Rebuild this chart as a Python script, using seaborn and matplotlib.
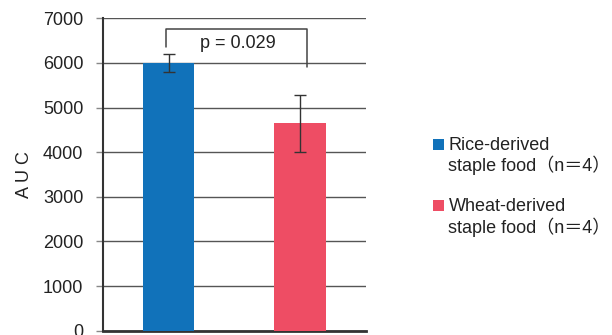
import matplotlib
matplotlib.use("Agg")
import matplotlib.pyplot as plt
from matplotlib.patches import Rectangle
import seaborn as sns
import pandas as pd

# Glucose response (AUC) by staple food type
groups = ["Rice-derived staple food", "Wheat-derived staple food"]
auc_mean = [6000, 4650]
auc_sd = [205, 640]
bar_colors = ["#1172BA", "#EE4D64"]
legend_labels = ["Rice-derived\nstaple food（n＝4）", "Wheat-derived\nstaple food（n＝4）"]
y_ticks = [0, 1000, 2000, 3000, 4000, 5000, 6000, 7000]
p_label = "p = 0.029"

FS = 13

sns.set_theme(style="white")
plt.rcParams["font.family"] = ["Liberation Sans", "Noto Sans CJK JP", "DejaVu Sans"]

df = pd.DataFrame({"group": groups, "auc": auc_mean})

fig = plt.figure(figsize=(6.12, 3.35), dpi=100)
ax = fig.add_axes([0.1678, 0.0128, 0.4302, 0.9326])

sns.barplot(data=df, x="group", y="auc", hue="group", palette=bar_colors,
            width=0.39, saturation=1, errorbar=None, legend=False, ax=ax,
            linewidth=0, edgecolor="none", zorder=3)
ax.errorbar(x=range(len(groups)), y=auc_mean, yerr=auc_sd, fmt="none",
            ecolor="#333333", elinewidth=1.0, capsize=4, capthick=1.0, zorder=4)

ax.set_ylim(0, 7000)
ax.set_xlim(-0.5, 1.5)
ax.set_yticks(y_ticks)
ax.set_yticklabels([str(t) for t in y_ticks])
ax.set_xticks([])
ax.set_xlabel("")
ax.set_ylabel("A U C", fontsize=FS, color="#222222", labelpad=7)

ax.yaxis.grid(True, color="#555555", linewidth=1.0, zorder=0)
ax.set_axisbelow(True)
ax.tick_params(axis="y", which="major", left=True, length=5, width=1,
               color="#888888", labelsize=FS, labelcolor="#222222", pad=9)

for side in ["top", "right"]:
    ax.spines[side].set_visible(False)
ax.spines["left"].set_color("#333333")
ax.spines["left"].set_linewidth(1.5)
ax.spines["bottom"].set_color("#333333")
ax.spines["bottom"].set_linewidth(2.0)

# significance bracket
ax.plot([-0.02, -0.02, 1.054, 1.054], [6360, 6770, 6770, 5900],
        color="#444444", linewidth=1.1, zorder=5, clip_on=False)
ax.text(0.53, 6440, p_label, ha="center", va="center", fontsize=FS,
        color="#222222", zorder=6)

# legend drawn as colored squares with two-line labels
sq = 11
cap_tops = [137.0, 198.5]
for color, label, top in zip(bar_colors, legend_labels, cap_tops):
    fig.patches.append(Rectangle((433 / 612, 1 - (top + 1.5 + sq) / 335),
                                 sq / 612, sq / 335,
                                 transform=fig.transFigure, facecolor=color,
                                 edgecolor="none"))
    fig.text(448.5 / 612, 1 - top / 335, label, ha="left", va="top",
             fontsize=FS, color="#222222", linespacing=1.1)

fig.savefig("out.png", dpi=100)
